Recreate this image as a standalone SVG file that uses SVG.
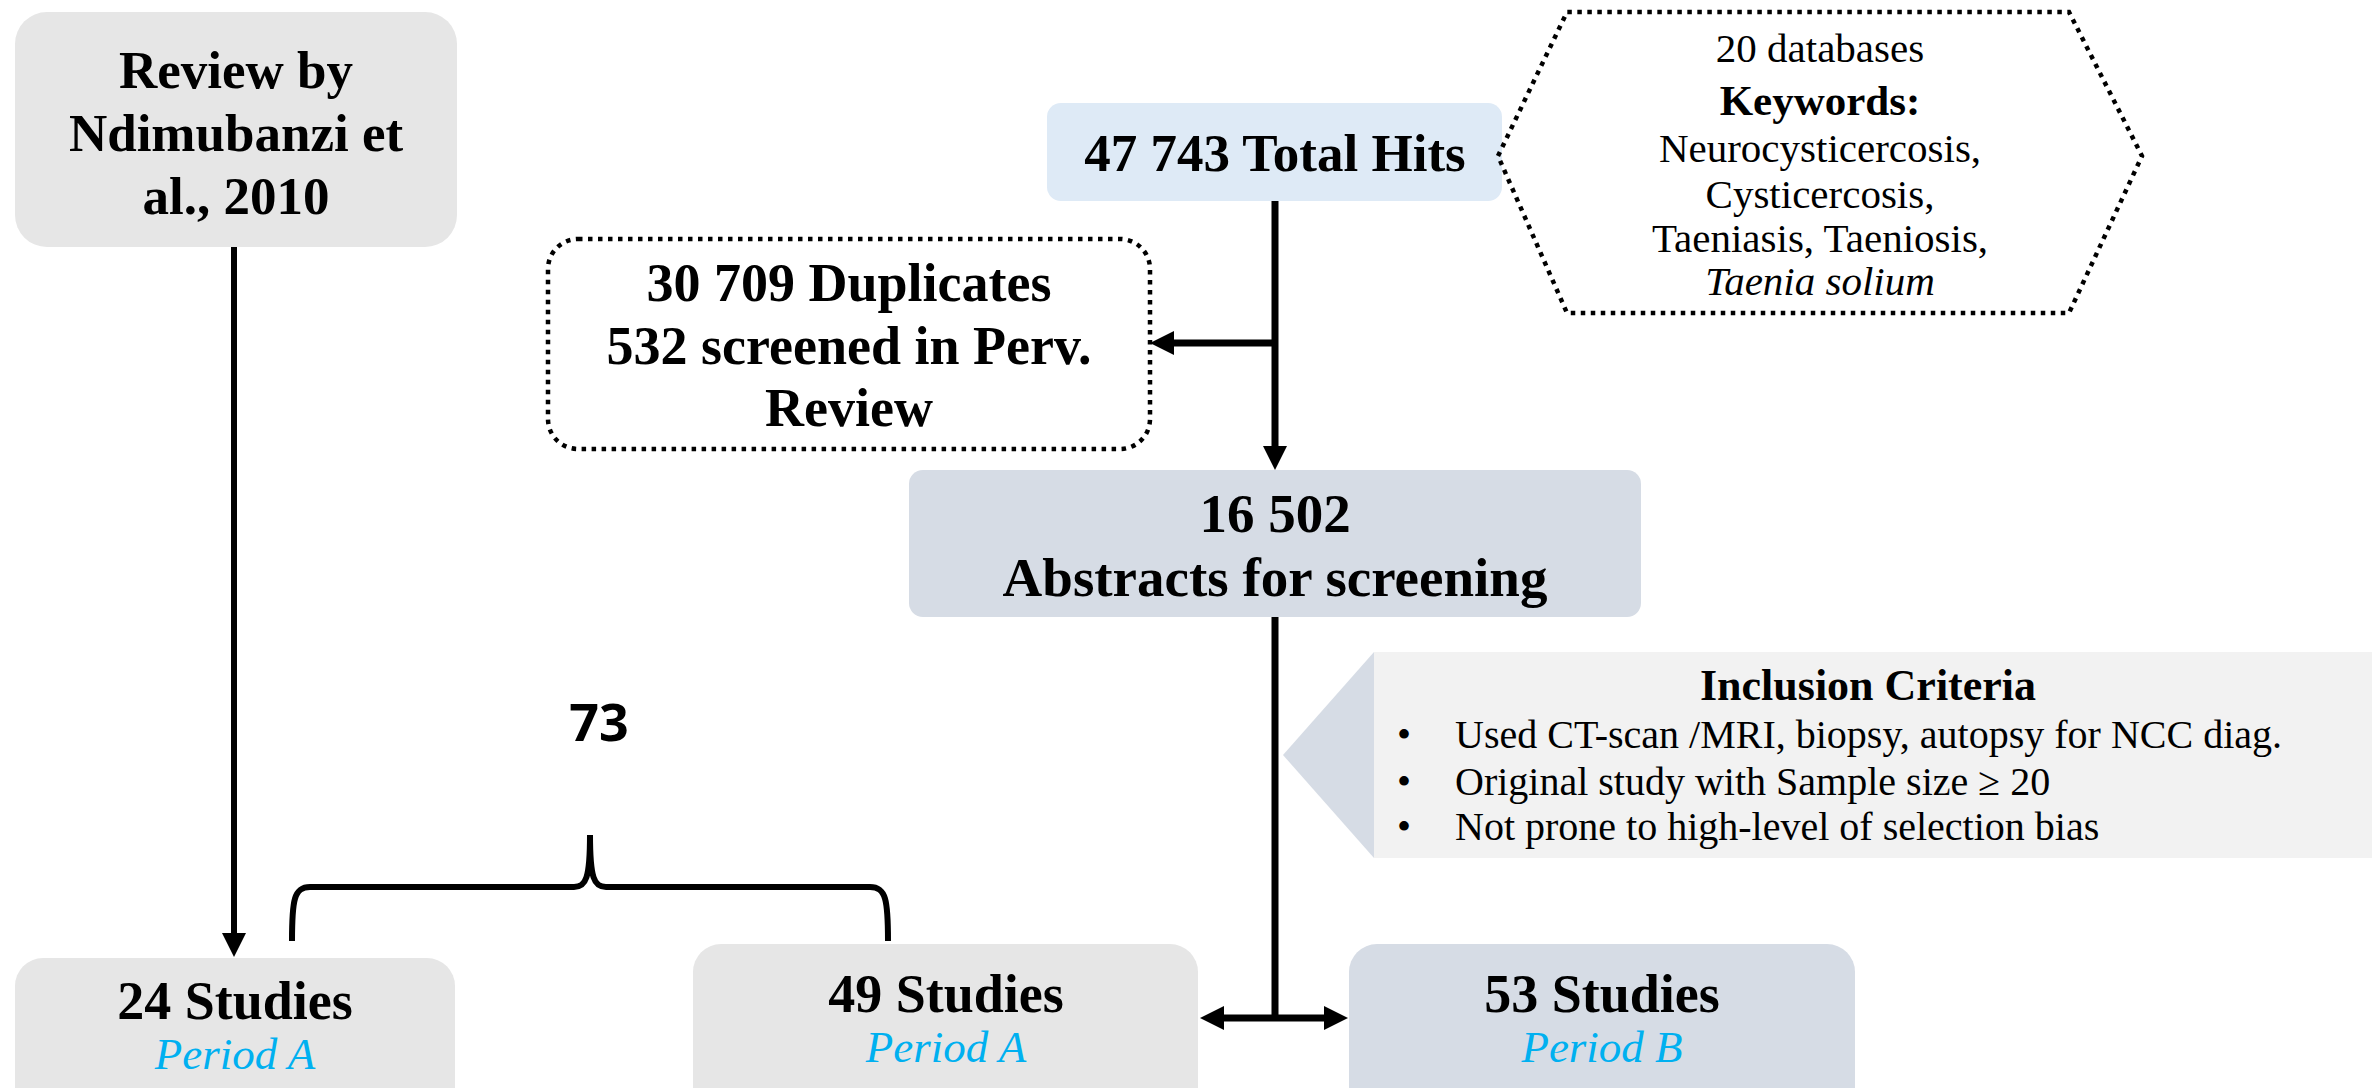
<svg xmlns="http://www.w3.org/2000/svg" width="2372" height="1088" viewBox="0 0 2372 1088">
<defs>
<style>
.t{font-family:"Liberation Serif","Times New Roman",serif;text-anchor:middle;fill:#000}
.b{font-weight:bold}
.per{font-family:"Liberation Serif",serif;font-style:italic;fill:#00b0f0;text-anchor:middle;font-size:45px}
.ln{stroke:#000;fill:none}
.dot{fill:none;stroke:#000;stroke-width:4.5;stroke-dasharray:4.5 5.5}
</style>
<marker id="ah" viewBox="0 0 24 24" refX="4" refY="12" markerWidth="24" markerHeight="24" orient="auto" markerUnits="userSpaceOnUse">
<path d="M0 0 L24 12 L0 24 Z" fill="#000"/>
</marker>
</defs>
<rect width="2372" height="1088" fill="#fff"/>

<g id="review">
<rect x="15" y="12" width="442" height="235" rx="32" fill="#e6e6e6"/>
<text class="t b" font-size="53" fill="#222"><tspan x="236" y="88">Review by</tspan><tspan x="236" y="151">Ndimubanzi et</tspan><tspan x="236" y="214">al., 2010</tspan></text>
</g>

<g id="totalhits">
<rect x="1047" y="103" width="455" height="98" rx="14" fill="#deeaf6"/>
<text class="t b" x="1275" y="171" font-size="53">47 743 Total Hits</text>
</g>

<g id="keywords">
<polygon class="dot" points="1498,156 1567,12 2069,12 2142,156 2069,313 1567,313"/>
<text class="t" font-size="41"><tspan x="1820" y="62">20 databases</tspan><tspan x="1820" y="115" font-weight="bold" font-size="43">Keywords:</tspan><tspan x="1820" y="162">Neurocysticercosis,</tspan><tspan x="1820" y="208">Cysticercosis,</tspan><tspan x="1820" y="252">Taeniasis, Taeniosis,</tspan><tspan x="1820" y="295" font-style="italic">Taenia solium</tspan></text>
</g>

<g id="duplicates">
<rect class="dot" x="548" y="239" width="602" height="210" rx="30"/>
<text class="t b" font-size="54"><tspan x="849" y="301">30 709 Duplicates</tspan><tspan x="849" y="364">532 screened in Perv.</tspan><tspan x="849" y="426">Review</tspan></text>
</g>

<g id="abstracts">
<rect x="909" y="470" width="732" height="147" rx="14" fill="#d6dce5"/>
<text class="t b" font-size="55"><tspan x="1275" y="532">16 502</tspan><tspan x="1275" y="596">Abstracts for screening</tspan></text>
</g>

<g id="criteria">
<rect x="1374" y="652" width="998" height="206" fill="#f2f2f2"/>
<polygon points="1374,652 1283,755 1374,858" fill="#d6dce5"/>
<text class="t b" x="1868" y="700" font-size="44">Inclusion Criteria</text>
<g font-family="Liberation Serif, serif" font-size="40" fill="#000">
<text x="1397" y="748">•</text><text x="1455" y="748">Used CT-scan /MRI, biopsy, autopsy for NCC diag.</text>
<text x="1397" y="795">•</text><text x="1455" y="795">Original study with Sample size ≥ 20</text>
<text x="1397" y="840">•</text><text x="1455" y="840">Not prone to high-level of selection bias</text>
</g>
</g>

<g id="total73">
<text x="599" y="741" font-family="Open Sans, Liberation Sans, sans-serif" font-weight="bold" font-size="52" text-anchor="middle" fill="#000">73</text>
<path class="ln" stroke-width="6" d="M292 941 C292 900 294 887 310 887 L574 887 C586 887 590 878 590 835 C590 878 594 887 606 887 L870 887 C886 887 888 900 888 941"/>
</g>

<g id="s24">
<rect x="15" y="958" width="440" height="160" rx="28" fill="#e6e6e6"/>
<text class="t b" x="235" y="1019" font-size="54">24 Studies</text>
<text class="per" x="235" y="1069">Period A</text>
</g>

<g id="s49">
<rect x="693" y="944" width="505" height="170" rx="28" fill="#e6e6e6"/>
<text class="t b" x="946" y="1012" font-size="54">49 Studies</text>
<text class="per" x="946" y="1062">Period A</text>
</g>

<g id="s53">
<rect x="1349" y="944" width="506" height="170" rx="28" fill="#d6dce5"/>
<text class="t b" x="1602" y="1012" font-size="54">53 Studies</text>
<text class="per" x="1602" y="1062">Period B</text>
</g>

<g id="connectors">
<line class="ln" stroke-width="6" x1="234" y1="247" x2="234" y2="937" marker-end="url(#ah)"/>
<line class="ln" stroke-width="7" x1="1275" y1="201" x2="1275" y2="450" marker-end="url(#ah)"/>
<line class="ln" stroke-width="7" x1="1278" y1="343" x2="1170" y2="343" marker-end="url(#ah)"/>
<line class="ln" stroke-width="7" x1="1275" y1="617" x2="1275" y2="1021"/>
<line class="ln" stroke-width="7" x1="1275" y1="1018" x2="1220" y2="1018" marker-end="url(#ah)"/>
<line class="ln" stroke-width="7" x1="1275" y1="1018" x2="1328" y2="1018" marker-end="url(#ah)"/>
</g>
</svg>
